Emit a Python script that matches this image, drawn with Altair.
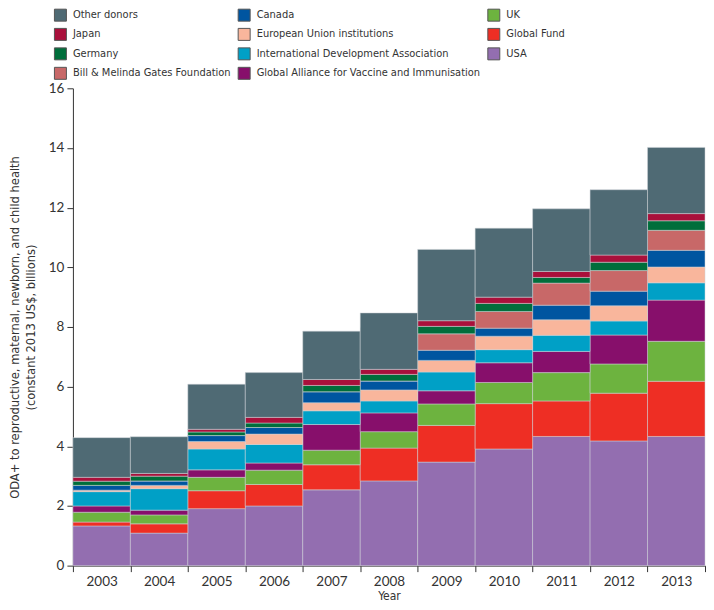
import altair as alt
import pandas as pd

years = ["2003", "2004", "2005", "2006", "2007", "2008", "2009", "2010", "2011", "2012", "2013"]

# stack order bottom -> top
donors = ["USA", "Global Fund", "UK", "Global Alliance for Vaccine and Immunisation",
          "International Development Association", "European Union institutions", "Canada",
          "Bill & Melinda Gates Foundation", "Germany", "Japan", "Other donors"]

usa = [1.33, 1.09, 1.91, 2.00, 2.54, 2.84, 3.47, 3.91, 4.33, 4.18, 4.33]
global_fund = [0.13, 0.31, 0.60, 0.72, 0.84, 1.10, 1.23, 1.52, 1.19, 1.60, 1.85]
uk = [0.33, 0.30, 0.45, 0.48, 0.49, 0.55, 0.72, 0.71, 0.95, 0.98, 1.34]
gavi = [0.21, 0.16, 0.25, 0.24, 0.86, 0.63, 0.44, 0.66, 0.71, 0.97, 1.38]
ida = [0.48, 0.72, 0.70, 0.62, 0.46, 0.40, 0.63, 0.44, 0.54, 0.47, 0.58]
eu = [0.05, 0.11, 0.25, 0.35, 0.27, 0.37, 0.39, 0.45, 0.52, 0.51, 0.53]
canada = [0.16, 0.15, 0.20, 0.22, 0.37, 0.30, 0.34, 0.27, 0.49, 0.49, 0.56]
bmgf = [0.00, 0.00, 0.00, 0.00, 0.00, 0.00, 0.55, 0.56, 0.74, 0.69, 0.67]
germany = [0.14, 0.16, 0.12, 0.15, 0.21, 0.22, 0.25, 0.27, 0.19, 0.28, 0.32]
japan = [0.13, 0.09, 0.09, 0.19, 0.20, 0.17, 0.19, 0.21, 0.20, 0.24, 0.24]
other = [1.33, 1.23, 1.51, 1.50, 1.62, 1.89, 2.39, 2.31, 2.10, 2.19, 2.22]

series = [usa, global_fund, uk, gavi, ida, eu, canada, bmgf, germany, japan, other]

colors = {
    "Other donors": "#4f6a74",
    "Japan": "#a9103b",
    "Germany": "#006e3b",
    "Bill & Melinda Gates Foundation": "#c86868",
    "Canada": "#0055a0",
    "European Union institutions": "#f9b69c",
    "International Development Association": "#00a0c6",
    "Global Alliance for Vaccine and Immunisation": "#870f6b",
    "UK": "#6db33f",
    "Global Fund": "#ee2e24",
    "USA": "#936eb0",
}

# legend order, filled column by column
legend_order = ["Other donors", "Japan", "Germany", "Bill & Melinda Gates Foundation",
                "Canada", "European Union institutions",
                "International Development Association",
                "Global Alliance for Vaccine and Immunisation",
                "UK", "Global Fund", "USA"]

rows = []
for i, (d, vals) in enumerate(zip(donors, series)):
    for y, v in zip(years, vals):
        rows.append({"year": y, "donor": d, "value": v, "order": i})
df = pd.DataFrame(rows)

narrow = "DejaVu Sans Condensed, Liberation Sans Narrow, sans-serif"
regular = "Lato, Open Sans, sans-serif"

chart = alt.Chart(df).mark_bar(stroke="#cfd3d6", strokeWidth=0.5).encode(
    x=alt.X("year:O", title="Year",
            scale=alt.Scale(paddingInner=0, paddingOuter=0),
            axis=alt.Axis(labelAngle=0, tickBand="extent", tickSize=6, labelPadding=3,
                          labelFont=regular, labelFontSize=13.5, labelColor="#333",
                          titleFont=narrow, titleFontSize=12, titleFontWeight="normal",
                          titleColor="#333", titlePadding=2,
                          domainColor="#333", tickColor="#333")),
    y=alt.Y("value:Q", stack="zero",
            scale=alt.Scale(domain=[0, 16], nice=False),
            title=["ODA+ to reproductive, maternal, newborn, and child health",
                   "(constant 2013 US$, billions)"],
            axis=alt.Axis(values=list(range(0, 17, 2)), grid=False, tickSize=6,
                          labelFont=regular, labelFontSize=13.5, labelColor="#333",
                          labelPadding=3,
                          titleFont=narrow, titleFontSize=12.8, titleFontWeight="normal",
                          titleColor="#333", titlePadding=11, titleLineHeight=16,
                          domainColor="#333", tickColor="#333")),
    color=alt.Color("donor:N",
                    scale=alt.Scale(domain=legend_order,
                                    range=[colors[d] for d in legend_order]),
                    legend=alt.Legend(title=None, orient="none", legendX=-19, legendY=-80,
                                      columns=3, columnPadding=4, rowPadding=2.5,
                                      symbolType="square", symbolSize=144,
                                      symbolStrokeColor="#555", symbolStrokeWidth=1,
                                      labelFont=narrow, labelFontSize=11, labelColor="#333",
                                      labelOffset=6, padding=0, labelLimit=400)),
    order=alt.Order("order:Q", sort="ascending"),
).properties(
    width=633, height=478, padding={"left": 0, "top": 0, "right": 0, "bottom": 0}
).configure_view(stroke=None)

chart.save("out.html", embed_options={"renderer": "svg", "actions": False})
